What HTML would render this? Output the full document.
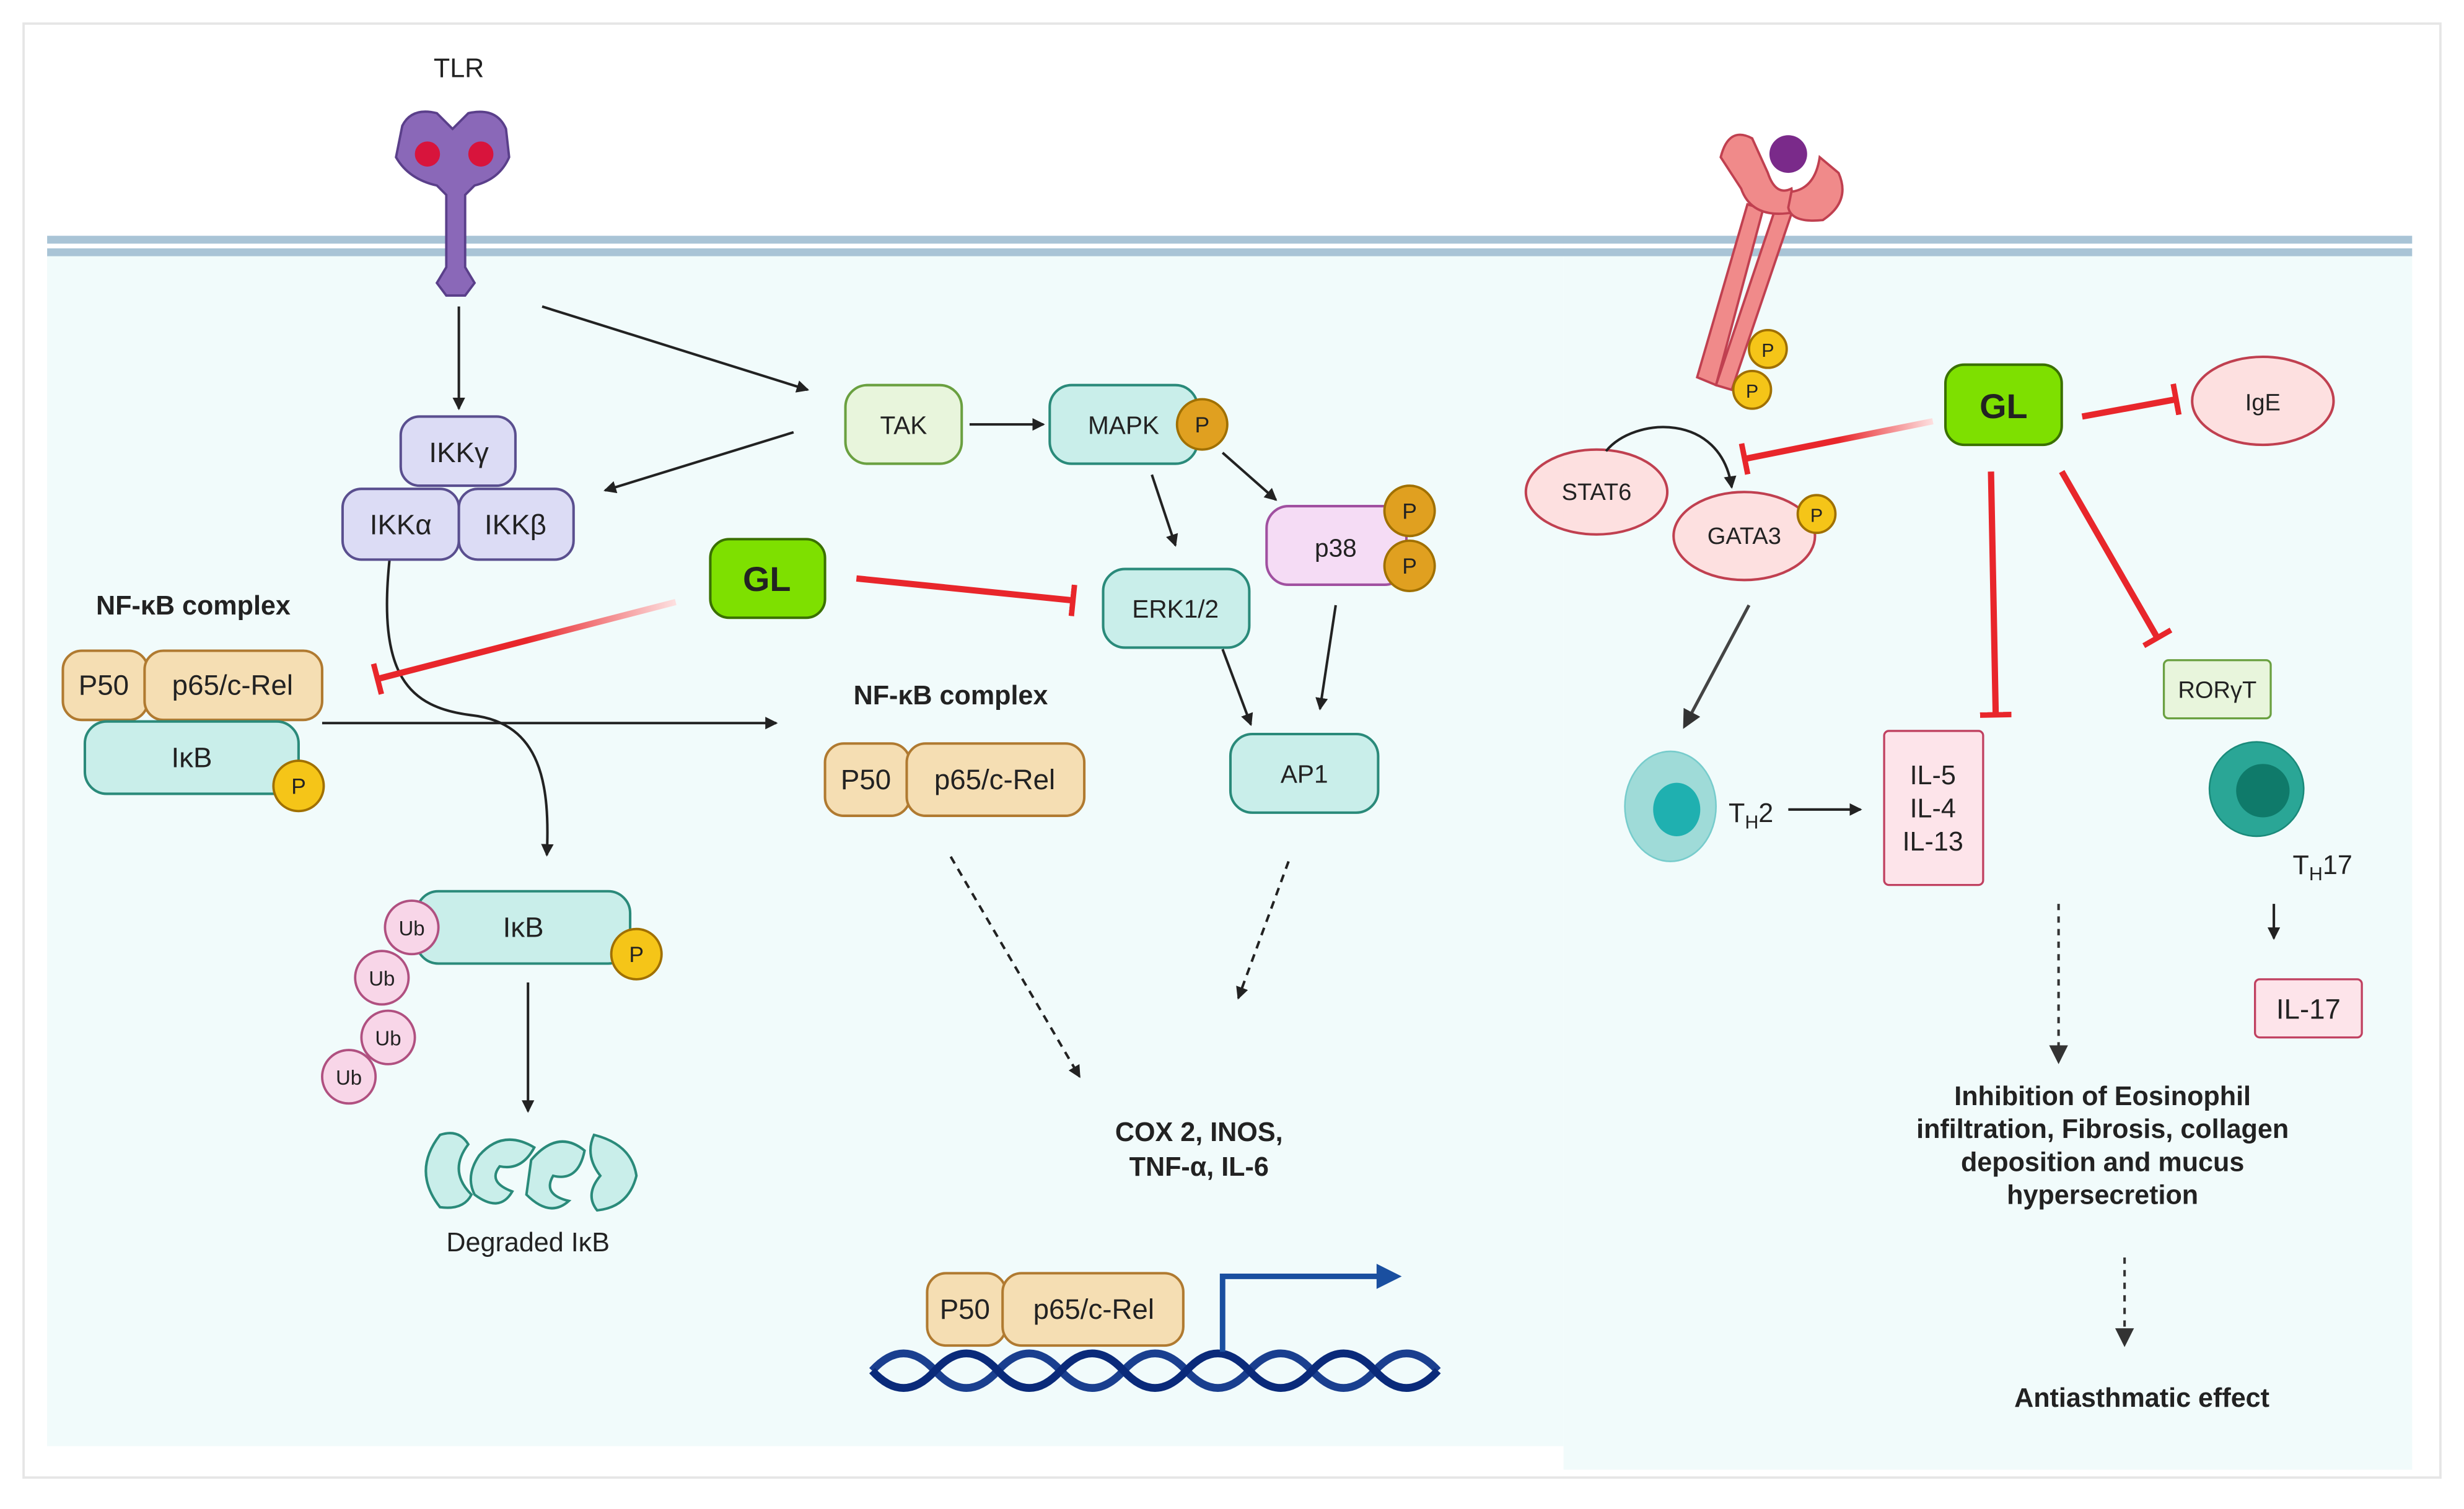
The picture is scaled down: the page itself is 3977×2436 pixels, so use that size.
<!DOCTYPE html>
<html><head><meta charset="utf-8"><style>
html,body{margin:0;padding:0;background:#fff}
svg{display:block}
text{font-family:"Liberation Sans",sans-serif;fill:#222}
</style></head><body>
<svg width="3977" height="2436" viewBox="0 0 1568 960" preserveAspectRatio="none" xmlns="http://www.w3.org/2000/svg">
<defs>
<marker id="ah" markerWidth="8" markerHeight="8" refX="7" refY="4" orient="auto" markerUnits="userSpaceOnUse"><path d="M0,0 L8,4 L0,8 z" fill="#222"/></marker>
<marker id="ah2" markerWidth="12" markerHeight="12" refX="10" refY="6" orient="auto" markerUnits="userSpaceOnUse"><path d="M0,0 L12,6 L0,12 z" fill="#333"/></marker>
<marker id="bar" markerWidth="4" markerHeight="20" refX="2" refY="10" orient="auto" markerUnits="userSpaceOnUse"><rect x="0" y="0" width="3.5" height="20" fill="#e8262b"/></marker>
<linearGradient id="rg1" x1="1" y1="0" x2="0" y2="0"><stop offset="0" stop-color="#fde0e0"/><stop offset="0.5" stop-color="#e8262b"/></linearGradient>
</defs>
<rect x="0" y="0" width="1568" height="960" fill="#fff"/>
<rect x="15" y="15" width="1538" height="925" fill="#fff" stroke="#e6e6e6" stroke-width="1.5"/>
<rect x="30" y="162" width="965" height="758" fill="#f1fbfb"/>
<rect x="995" y="162" width="540" height="773" fill="#f1fbfb"/>
<rect x="30" y="150" width="1505" height="5" fill="#a9c4d6"/>
<rect x="30" y="158" width="1505" height="5" fill="#a9c4d6"/>

<!-- TLR -->
<text x="292" y="49" font-size="17" text-anchor="middle">TLR</text>
<g fill="#8a68b8" stroke="#5a3f8a" stroke-width="1.5">
<path d="M256,80 Q262,68 278,72 L288,82 L298,72 Q316,68 322,82 L324,100 Q318,114 302,118 L296,124 L296,170 L302,180 L296,188 L284,188 L278,180 L284,170 L284,124 L278,118 Q260,114 252,100 Z"/>
</g>
<circle cx="272" cy="98" r="8" fill="#d8143c"/><circle cx="306" cy="98" r="8" fill="#d8143c"/>

<!-- arrows left -->
<g stroke="#222" stroke-width="1.6" fill="none" marker-end="url(#ah)">
<line x1="292" y1="195" x2="292" y2="260"/>
<line x1="345" y1="195" x2="514" y2="248"/>
<line x1="505" y1="275" x2="385" y2="312"/>
<line x1="617" y1="270" x2="664" y2="270"/>
<line x1="733" y1="302" x2="748" y2="347"/>
<line x1="778" y1="288" x2="812" y2="318"/>
<line x1="778" y1="413" x2="796" y2="461"/>
<line x1="850" y1="385" x2="840" y2="451"/>
<line x1="205" y1="460" x2="494" y2="460"/>
<path d="M248,355 C240,430 260,450 300,455 C345,460 350,500 348,544"/>
<line x1="336" y1="625" x2="336" y2="707"/>
</g>
<g stroke="#222" stroke-width="1.6" fill="none" stroke-dasharray="5,4" marker-end="url(#ah)">
<line x1="605" y1="545" x2="687" y2="685"/>
<line x1="820" y1="548" x2="788" y2="635"/>
</g>

<!-- IKK -->
<g stroke="#5a4f8f" stroke-width="1.6" fill="#dcdcf5">
<rect x="255" y="265" width="73" height="44" rx="12"/>
<rect x="218" y="311" width="74" height="45" rx="12"/>
<rect x="292" y="311" width="73" height="45" rx="12"/>
</g>
<text x="292" y="294" font-size="18" text-anchor="middle">IKKγ</text>
<text x="255" y="340" font-size="18" text-anchor="middle">IKKα</text>
<text x="328" y="340" font-size="18" text-anchor="middle">IKKβ</text>

<text x="123" y="391" font-size="17" font-weight="bold" text-anchor="middle">NF-κB complex</text>
<g stroke="#b07a30" stroke-width="1.6" fill="#f5deb3">
<rect x="40" y="414" width="54" height="44" rx="12"/>
<rect x="92" y="414" width="113" height="44" rx="12"/>
<rect x="525" y="473" width="54" height="46" rx="12"/>
<rect x="577" y="473" width="113" height="46" rx="12"/>
<rect x="590" y="810" width="50" height="46" rx="12"/>
<rect x="638" y="810" width="115" height="46" rx="12"/>
</g>
<text x="66" y="442" font-size="18" text-anchor="middle">P50</text>
<text x="148" y="442" font-size="18" text-anchor="middle">p65/c-Rel</text>
<text x="551" y="502" font-size="18" text-anchor="middle">P50</text>
<text x="633" y="502" font-size="18" text-anchor="middle">p65/c-Rel</text>
<text x="614" y="839" font-size="18" text-anchor="middle">P50</text>
<text x="696" y="839" font-size="18" text-anchor="middle">p65/c-Rel</text>
<text x="605" y="448" font-size="17" font-weight="bold" text-anchor="middle">NF-κB complex</text>

<g stroke="#2a8a7a" stroke-width="1.6" fill="#c9eeea">
<rect x="54" y="459" width="136" height="46" rx="14"/>
<rect x="265" y="567" width="136" height="46" rx="14"/>
<rect x="538" y="245" width="74" height="50" rx="14" fill="#e8f5dc" stroke="#6aa040"/>
<rect x="668" y="245" width="94" height="50" rx="14"/>
<rect x="702" y="362" width="93" height="50" rx="14"/>
<rect x="783" y="467" width="94" height="50" rx="14"/>
<rect x="806" y="322" width="89" height="50" rx="14" fill="#f5dcf5" stroke="#a050a0"/>
</g>
<text x="122" y="488" font-size="18" text-anchor="middle">IκB</text>
<text x="333" y="596" font-size="18" text-anchor="middle">IκB</text>
<text x="575" y="276" font-size="16" text-anchor="middle">TAK</text>
<text x="715" y="276" font-size="16" text-anchor="middle">MAPK</text>
<text x="748" y="393" font-size="16" text-anchor="middle">ERK1/2</text>
<text x="830" y="498" font-size="16" text-anchor="middle">AP1</text>
<text x="850" y="354" font-size="16" text-anchor="middle">p38</text>

<!-- right ellipses (before P circles) -->
<g fill="#fde0e0" stroke="#c04050" stroke-width="1.6">
<ellipse cx="1440" cy="255" rx="45" ry="28"/>
<ellipse cx="1016" cy="313" rx="45" ry="27"/>
<ellipse cx="1110" cy="341" rx="45" ry="28"/>
</g>
<text x="1440" y="261" font-size="15" text-anchor="middle">IgE</text>
<text x="1016" y="318" font-size="15" text-anchor="middle">STAT6</text>
<text x="1110" y="346" font-size="15" text-anchor="middle">GATA3</text>

<!-- right receptor -->
<g fill="#f08a8a" stroke="#c04050" stroke-width="1.5">
<path d="M1080,240 L1112,130 L1122,133 L1092,245 Z"/>
<path d="M1092,245 L1130,132 L1140,136 L1102,248 Z"/>
<path d="M1095,100 Q1100,80 1115,88 L1125,110 Q1130,125 1140,120 L1142,135 Q1115,140 1108,120 Z"/>
<path d="M1170,110 Q1178,128 1160,140 Q1140,142 1138,132 L1140,122 Q1155,120 1158,100 Z"/>
</g>
<circle cx="1138" cy="98" r="12" fill="#7a2a8a"/>

<!-- P circles -->
<g stroke="#a07000" stroke-width="1.5">
<circle cx="190" cy="500" r="16" fill="#f5c518"/>
<circle cx="405" cy="607" r="16" fill="#f5c518"/>
<circle cx="765" cy="270" r="16" fill="#e0a020"/>
<circle cx="897" cy="325" r="16" fill="#e0a020"/>
<circle cx="897" cy="360" r="16" fill="#e0a020"/>
<circle cx="1125" cy="222" r="12" fill="#f5c518"/>
<circle cx="1115" cy="248" r="12" fill="#f5c518"/>
<circle cx="1156" cy="327" r="12" fill="#f5c518"/>
</g>
<g font-size="14" text-anchor="middle">
<text x="190" y="505">P</text><text x="405" y="612">P</text>
<text x="765" y="275" fill="#fff">P</text><text x="897" y="330" fill="#fff">P</text><text x="897" y="365" fill="#fff">P</text>
<text x="1125" y="227" font-size="12">P</text><text x="1115" y="253" font-size="12">P</text><text x="1156" y="332" font-size="12">P</text>
</g>

<!-- Ub -->
<g stroke="#b05080" stroke-width="1.5" fill="#f8d6e8">
<circle cx="262" cy="590" r="17"/><circle cx="243" cy="622" r="17"/><circle cx="247" cy="660" r="17"/><circle cx="222" cy="685" r="17"/>
</g>
<g font-size="13" text-anchor="middle">
<text x="262" y="595">Ub</text><text x="243" y="627">Ub</text><text x="247" y="665">Ub</text><text x="222" y="690">Ub</text>
</g>

<!-- degraded -->
<g fill="#c9eeea" stroke="#2a8a7a" stroke-width="1.6">
<path d="M280,722 Q262,745 280,768 Q295,770 300,760 Q285,745 298,728 Q292,718 280,722 Z"/>
<path d="M305,735 Q320,718 340,730 Q332,745 318,742 Q310,752 326,758 Q318,772 302,760 Q296,748 305,735 Z"/>
<path d="M338,738 Q355,718 372,732 Q368,752 352,748 Q345,760 362,764 Q350,775 335,760 Z"/>
<path d="M378,722 Q402,728 405,748 Q400,768 380,770 Q372,760 382,748 Q372,735 378,722 Z"/>
</g>
<text x="336" y="796" font-size="17" text-anchor="middle">Degraded IκB</text>

<!-- GL left -->
<line x1="430" y1="383" x2="240" y2="432" stroke="url(#rg1)" stroke-width="4" marker-end="url(#bar)"/>
<line x1="545" y1="368" x2="683" y2="382" stroke="#e8262b" stroke-width="4" marker-end="url(#bar)"/>
<rect x="452" y="343" width="73" height="50" rx="12" fill="#7ee000" stroke="#3a7000" stroke-width="1.6"/>
<text x="488" y="376" font-size="22" font-weight="bold" text-anchor="middle">GL</text>

<text x="763" y="726" font-size="17" font-weight="bold" text-anchor="middle">COX 2, INOS,</text>
<text x="763" y="748" font-size="17" font-weight="bold" text-anchor="middle">TNF-α, IL-6</text>

<!-- DNA -->
<g fill="none" stroke="#1a3f8f" stroke-width="5">
<path d="M555,872 Q575,850 595,872 T635,872 T675,872 T715,872 T755,872 T795,872 T835,872 T875,872 T915,872"/>
<path d="M555,872 Q575,894 595,872 T635,872 T675,872 T715,872 T755,872 T795,872 T835,872 T875,872 T915,872" stroke="#0a2a7a"/>
</g>
<path d="M778,860 L778,812 L878,812" fill="none" stroke="#1a4fa0" stroke-width="3.5"/>
<path d="M876,804 L892,812 L876,820 z" fill="#1a4fa0"/>

<!-- right arrows -->
<g stroke="#222" stroke-width="1.6" fill="none" marker-end="url(#ah)">
<path d="M1022,287 C1040,265 1095,262 1102,310"/>
<line x1="1138" y1="515" x2="1184" y2="515"/>
<line x1="1447" y1="575" x2="1447" y2="597"/>
</g>
<line x1="1113" y1="385" x2="1072" y2="462" stroke="#444" stroke-width="2" marker-end="url(#ah2)"/>
<g stroke="#333" stroke-width="1.6" fill="none" stroke-dasharray="4,4" marker-end="url(#ah2)">
<line x1="1310" y1="575" x2="1310" y2="675"/>
<line x1="1352" y1="800" x2="1352" y2="855"/>
</g>

<!-- inhibitions right -->
<g stroke-width="4" marker-end="url(#bar)">
<line x1="1230" y1="268" x2="1110" y2="292" stroke="url(#rg1)"/>
<line x1="1325" y1="265" x2="1385" y2="254" stroke="#e8262b"/>
<line x1="1267" y1="300" x2="1270" y2="455" stroke="#e8262b"/>
<line x1="1312" y1="300" x2="1373" y2="406" stroke="#e8262b"/>
</g>
<rect x="1238" y="232" width="74" height="51" rx="12" fill="#7ee000" stroke="#3a7000" stroke-width="1.6"/>
<text x="1275" y="266" font-size="22" font-weight="bold" text-anchor="middle">GL</text>

<rect x="1377" y="420" width="68" height="37" rx="3" fill="#e8f5dc" stroke="#6aa040" stroke-width="1.3"/>
<text x="1411" y="444" font-size="15" text-anchor="middle">RORγT</text>
<rect x="1199" y="465" width="63" height="98" rx="3" fill="#fde4ea" stroke="#c04060" stroke-width="1.3"/>
<text x="1230" y="499" font-size="17" text-anchor="middle">IL-5</text>
<text x="1230" y="520" font-size="17" text-anchor="middle">IL-4</text>
<text x="1230" y="541" font-size="17" text-anchor="middle">IL-13</text>
<rect x="1435" y="623" width="68" height="37" rx="3" fill="#fde4ea" stroke="#c04060" stroke-width="1.3"/>
<text x="1469" y="648" font-size="18" text-anchor="middle">IL-17</text>

<ellipse cx="1063" cy="513" rx="29" ry="35" fill="#9fdbd8" stroke="#7cc" stroke-width="1"/>
<ellipse cx="1067" cy="515" rx="15" ry="17" fill="#1fb0b0"/>
<text x="1100" y="523" font-size="17">T<tspan font-size="12" dy="4">H</tspan><tspan dy="-4">2</tspan></text>
<circle cx="1436" cy="502" r="30" fill="#2aa696" stroke="#1a8a7a"/>
<circle cx="1440" cy="503" r="17" fill="#0f7a6a"/>
<text x="1459" y="556" font-size="17">T<tspan font-size="12" dy="4">H</tspan><tspan dy="-4">17</tspan></text>

<g font-size="17" font-weight="bold" text-anchor="middle">
<text x="1338" y="703">Inhibition of Eosinophil</text>
<text x="1338" y="724">infiltration, Fibrosis, collagen</text>
<text x="1338" y="745">deposition and mucus</text>
<text x="1338" y="766">hypersecretion</text>
<text x="1363" y="895">Antiasthmatic effect</text>
</g>
</svg>
</body></html>
